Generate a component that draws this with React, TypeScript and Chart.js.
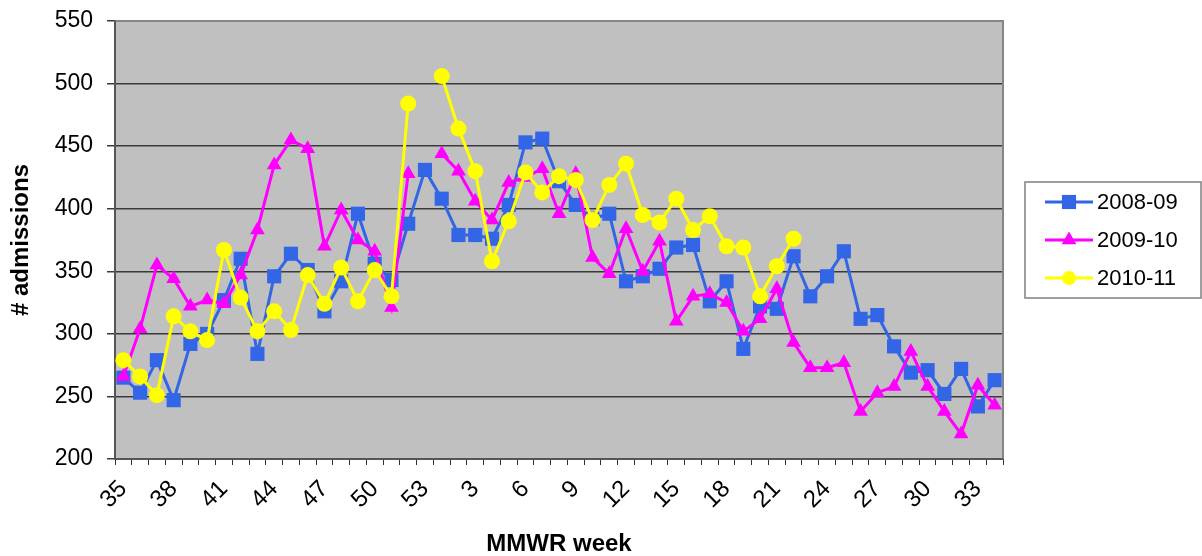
import React, { useEffect, useRef } from 'react';
import { Chart, registerables } from 'chart.js';

Chart.register(...registerables);

const FONT = '"Liberation Sans", Arial, Helvetica, sans-serif';

// MMWR weeks 35..53, then 1..34
const weeks: string[] = [
  '35', '36', '37', '38', '39', '40', '41', '42', '43', '44', '45', '46', '47', '48', '49', '50', '51', '52', '53',
  '1', '2', '3', '4', '5', '6', '7', '8', '9', '10', '11', '12', '13', '14', '15', '16', '17', '18', '19', '20',
  '21', '22', '23', '24', '25', '26', '27', '28', '29', '30', '31', '32', '33', '34',
];

const s2008_09: (number | null)[] = [
  265, 253, 279, 247, 292, 300, 327, 360, 284, 346, 364, 351, 318, 342, 396, 356, 343, 388, 431,
  408, 379, 379, 376, 403, 453, 456, 422, 403, 392, 396, 342, 346, 352, 369, 371, 326, 342, 288, 322,
  320, 362, 330, 346, 366, 312, 315, 290, 269, 271, 252, 272, 242, 263,
];

const s2009_10: (number | null)[] = [
  266, 304, 355, 344, 322, 327, 324, 347, 383, 435, 455, 448, 370, 399, 375, 366, 321, 428, null,
  444, 430, 406, 391, 421, 425, 432, 396, 428, 361, 348, 384, 350, 374, 310, 330, 332, 325, 302, 312,
  336, 293, 273, 273, 277, 238, 253, 258, 286, 258, 238, 220, 259, 243,
];

const s2010_11: (number | null)[] = [
  279, 266, 251, 314, 302, 295, 367, 329, 302, 318, 303, 347, 324, 353, 326, 351, 330, 484, null,
  506, 464, 430, 358, 390, 429, 413, 426, 423, 391, 419, 436, 395, 389, 408, 383, 394, 370, 369, 330,
  354, 376, null, null, null, null, null, null, null, null, null, null, null, null,
];

const seriesNames = ['2008-09', '2009-10', '2010-11'];
const seriesColors = ['#3366e6', '#ff00ff', '#ffff00'];
const seriesStyles = ['rect', 'triangle', 'circle'];

const yMin = 200;
const yMax = 550;
const yStep = 50;

function drawMarker(ctx: CanvasRenderingContext2D, style: string, x: number, y: number, r: number) {
  ctx.beginPath();
  if (style === 'rect') {
    const h = r * Math.SQRT1_2;
    ctx.rect(x - h, y - h, 2 * h, 2 * h);
  } else if (style === 'triangle') {
    for (let k = 0; k < 3; k++) {
      const a = (k * 2 * Math.PI) / 3;
      const px = x + Math.sin(a) * r;
      const py = y - Math.cos(a) * r;
      if (k === 0) ctx.moveTo(px, py);
      else ctx.lineTo(px, py);
    }
    ctx.closePath();
  } else {
    ctx.arc(x, y, r, 0, Math.PI * 2);
  }
  ctx.fill();
}

const plotFrame = {
  id: 'plotFrame',
  beforeDraw(chart: any) {
    const { ctx, chartArea: a } = chart;
    ctx.save();
    ctx.fillStyle = '#ffffff';
    ctx.fillRect(0, 0, chart.width, chart.height);
    ctx.fillStyle = '#c0c0c0';
    ctx.fillRect(a.left, a.top, a.right - a.left, a.bottom - a.top);
    ctx.restore();
  },
  beforeDatasetsDraw(chart: any) {
    const { ctx, chartArea: a } = chart;
    ctx.save();
    ctx.strokeStyle = '#858585';
    ctx.lineWidth = 2;
    ctx.beginPath();
    ctx.moveTo(a.left, a.top);
    ctx.lineTo(a.right, a.top);
    ctx.lineTo(a.right, a.bottom);
    ctx.stroke();
    ctx.strokeStyle = '#555555';
    ctx.beginPath();
    ctx.moveTo(a.left, a.top);
    ctx.lineTo(a.left, a.bottom);
    ctx.lineTo(a.right, a.bottom);
    ctx.stroke();
    ctx.restore();
  },
};

const boxLegend = {
  id: 'boxLegend',
  afterDraw(chart: any) {
    const { ctx } = chart;
    const bx = 1025, by = 182, bw = 176, bh = 116;
    ctx.save();
    ctx.fillStyle = '#ffffff';
    ctx.fillRect(bx, by, bw, bh);
    ctx.strokeStyle = '#808080';
    ctx.lineWidth = 1.5;
    ctx.strokeRect(bx, by, bw, bh);
    const ds = chart.data.datasets;
    ds.forEach((d: any, i: number) => {
      const y = by + 20 + i * 38;
      ctx.strokeStyle = d.borderColor;
      ctx.lineWidth = 3;
      ctx.beginPath();
      ctx.moveTo(bx + 20, y);
      ctx.lineTo(bx + 68, y);
      ctx.stroke();
      ctx.fillStyle = d.borderColor;
      drawMarker(ctx, d.pointStyle, bx + 44, y, d.pointStyle === 'rect' ? 10 : d.pointStyle === 'triangle' ? 8.5 : 7);
      ctx.fillStyle = '#000000';
      ctx.font = `22px ${FONT}`;
      ctx.textBaseline = 'middle';
      ctx.textAlign = 'left';
      ctx.fillText(d.label, bx + 72, y + 1);
    });
    ctx.restore();
  },
};

export default function App() {
  const canvasRef = useRef<HTMLCanvasElement | null>(null);

  useEffect(() => {
    document.body.style.margin = '0';
    Chart.defaults.font.family = FONT;
    const canvas = canvasRef.current;
    if (!canvas) return;
    const values = [s2008_09, s2009_10, s2010_11];
    const radii = [10, 8.5, 8];
    const chart = new Chart(canvas, {
      type: 'line',
      data: {
        labels: weeks,
        datasets: values.map((v, i) => ({
          label: seriesNames[i],
          data: v,
          borderColor: seriesColors[i],
          backgroundColor: seriesColors[i],
          pointBackgroundColor: seriesColors[i],
          pointBorderColor: seriesColors[i],
          pointStyle: seriesStyles[i] as any,
          pointRadius: radii[i],
          pointBorderWidth: 0,
          borderWidth: 3,
          tension: 0,
          spanGaps: false,
          order: 3 - i,
        })),
      },
      options: {
        animation: false,
        responsive: false,
        events: [],
        layout: { padding: { left: 0, top: 21, right: 199, bottom: 0 } },
        plugins: {
          legend: { display: false },
          tooltip: { enabled: false },
        },
        scales: {
          x: {
            type: 'category',
            offset: true,
            grid: {
              offset: true,
              drawOnChartArea: false,
              drawTicks: true,
              tickLength: 6,
              color: '#303030',
              lineWidth: 1,
            },
            border: { display: true, color: '#555555', width: 2 },
            ticks: {
              autoSkip: false,
              maxRotation: 45,
              minRotation: 45,
              color: '#000000',
              font: { size: 24 },
              padding: 10,
              callback: (_v: any, i: number) => (i % 3 === 0 ? weeks[i] : ''),
            },
            title: {
              display: true,
              text: 'MMWR week',
              color: '#000000',
              font: { size: 24, weight: 'bold' },
              padding: { top: 0, bottom: -3 },
            },
            afterFit: (s: any) => {
              s.height = 97;
              s.paddingLeft = 0;
              s.paddingRight = 0;
            },
          },
          y: {
            min: yMin,
            max: yMax,
            ticks: {
              stepSize: yStep,
              color: '#000000',
              font: { size: 23 },
              padding: 14,
            },
            grid: { color: '#3a3a3a', lineWidth: 1.5, tickLength: 8 },
            border: { display: true, color: '#555555', width: 2 },
            title: {
              display: true,
              text: '# admissions',
              color: '#000000',
              font: { size: 24, weight: 'bold' },
              padding: { top: 7, bottom: 0 },
            },
            afterFit: (s: any) => {
              s.width = 115;
              s.paddingTop = 0;
              s.paddingBottom = 0;
            },
          },
        },
      } as any,
      plugins: [plotFrame, boxLegend],
    });
    return () => chart.destroy();
  }, []);

  return (
    <div style={{ position: 'fixed', left: 0, top: 0, width: 1202, height: 556, background: '#fff' }}>
      <canvas ref={canvasRef} width={1202} height={556} style={{ display: 'block', width: 1202, height: 556 }} />
    </div>
  );
}
